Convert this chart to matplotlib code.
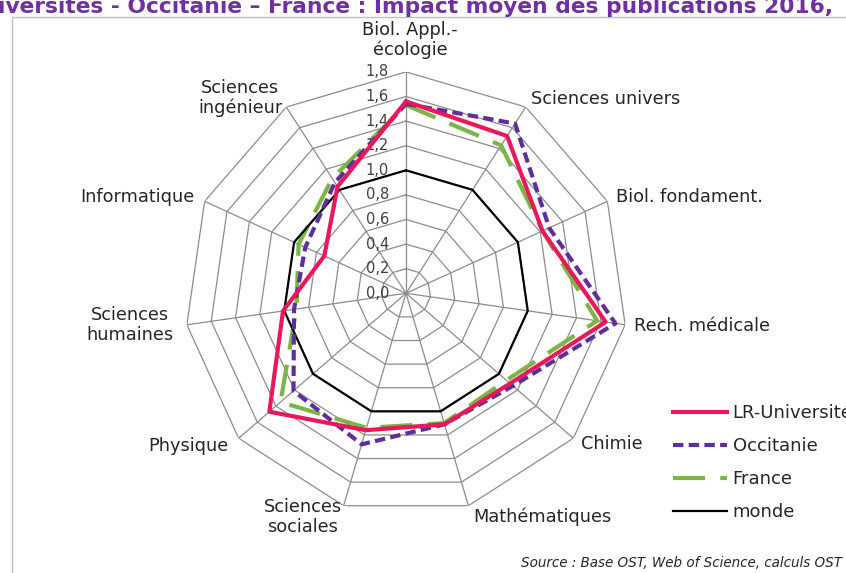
import numpy as np
import matplotlib
matplotlib.use("Agg")
import matplotlib.pyplot as plt
from matplotlib.patches import Rectangle

# --- data ---
categories = ["Biol. Appl.-\nécologie", "Sciences univers", "Biol. fondament.",
              "Rech. médicale", "Chimie", "Mathématiques", "Sciences\nsociales",
              "Physique", "Sciences\nhumaines", "Informatique", "Sciences\ningénieur"]
lr_univ = [1.56, 1.52, 1.22, 1.64, 1.12, 1.11, 1.16, 1.47, 1.01, 0.73, 1.03]
occitanie = [1.54, 1.64, 1.28, 1.72, 1.15, 1.11, 1.28, 1.21, 0.92, 0.90, 1.07]
france = [1.53, 1.43, 1.22, 1.57, 1.08, 1.10, 1.14, 1.35, 0.90, 0.96, 1.11]
monde = [1.0] * 11
rticks = [0.0, 0.2, 0.4, 0.6, 0.8, 1.0, 1.2, 1.4, 1.6, 1.8]

# --- styling ---
plt.rcParams['font.family'] = ['DejaVu Sans']
plt.rcParams['lines.scale_dashes'] = False

label_offsets = [(4, 32, 'center'), (5, 8, 'left'), (9, 4, 'left'), (9, -1, 'left'),
                 (8, -6, 'left'), (5, -11, 'left'), (-41, -11, 'center'), (-10, -8, 'right'),
                 (-57, 0, 'center'), (-10, 4, 'right'), (-46, 9, 'center')]

grid_col = '#8c8c8c'

fig = plt.figure(figsize=(8.46, 5.73), dpi=100)
W, H = 846, 573
cx, cy, R = 406, 293.3, 221.4
ax = fig.add_axes([(cx - R) / W, (H - cy - R) / H, 2 * R / W, 2 * R / H], polar=True)
ax.set_theta_zero_location('N')
ax.set_theta_direction(-1)
ax.set_ylim(0, 1.8)
ax.grid(False)
ax.spines['polar'].set_visible(False)
ax.set_xticks([])
ax.set_yticks([])
ax.patch.set_alpha(0)

n = len(categories)
angles = np.linspace(0, 2 * np.pi, n, endpoint=False)
closed = np.append(angles, angles[0])

# polygon grid + spokes
for r in rticks[1:]:
    ax.plot(closed, [r] * (n + 1), color=grid_col, lw=0.9, zorder=1)
for a in angles:
    ax.plot([a, a], [0, 1.8], color=grid_col, lw=0.9, zorder=1)

# radial tick labels
for r in rticks:
    ax.annotate(f"{r:.1f}".replace('.', ','), xy=(0, r), xytext=(-17, 0),
                textcoords='offset pixels', ha='right', va='center', fontsize=10.5,
                color='#404040', zorder=2)

# category labels
for a, lab, (dx, dy, ha) in zip(angles, categories, label_offsets):
    ax.annotate(lab, xy=(a, 1.8), xytext=(dx, dy), textcoords='offset pixels',
                ha=ha, va='center', fontsize=12.8, color='#262626', linespacing=1.15,
                multialignment='center', annotation_clip=False)

def close(v):
    return list(v) + [v[0]]

ax.plot(closed, close(lr_univ), color='#E8185A', lw=3.0, label='LR-Universités', zorder=5)
ax.plot(closed, close(occitanie), color='#5E2F9B', lw=3.0, linestyle=(0, (7.5, 3.8)),
        label='Occitanie', zorder=4)
ax.plot(closed, close(france), color='#7CB545', lw=3.0, linestyle=(0, (23, 11)),
        label='France', zorder=3)
ax.plot(closed, close(monde), color='black', lw=1.6, label='monde', zorder=3)

leg = fig.legend(loc='upper left', bbox_to_anchor=(673 / W, 1 - 404 / H), frameon=False,
                 fontsize=13, handlelength=3.0, handletextpad=0.3, labelspacing=0.83,
                 borderpad=0, borderaxespad=0)
for t in leg.get_texts():
    t.set_color('#262626')

# frame of the chart area
fig.add_artist(Rectangle((12 / W, -0.05), 1.2, 1 - 17 / H + 0.05, transform=fig.transFigure,
                         fill=False, edgecolor='#bfbfbf', lw=1.0))

fig.text(-2 / W, 1 - 13 / H, "iversités - Occitanie – France : Impact moyen des publications 2016,",
         ha='left', va='baseline', fontsize=15.7, fontweight='bold', color='#7030A0')

fig.text(842 / W, 1 - 563 / H, "Source : Base OST, Web of Science, calculs OST",
         ha='right', va='center', fontsize=9.75, style='italic', color='#262626')

fig.savefig('out.png', dpi=100)
